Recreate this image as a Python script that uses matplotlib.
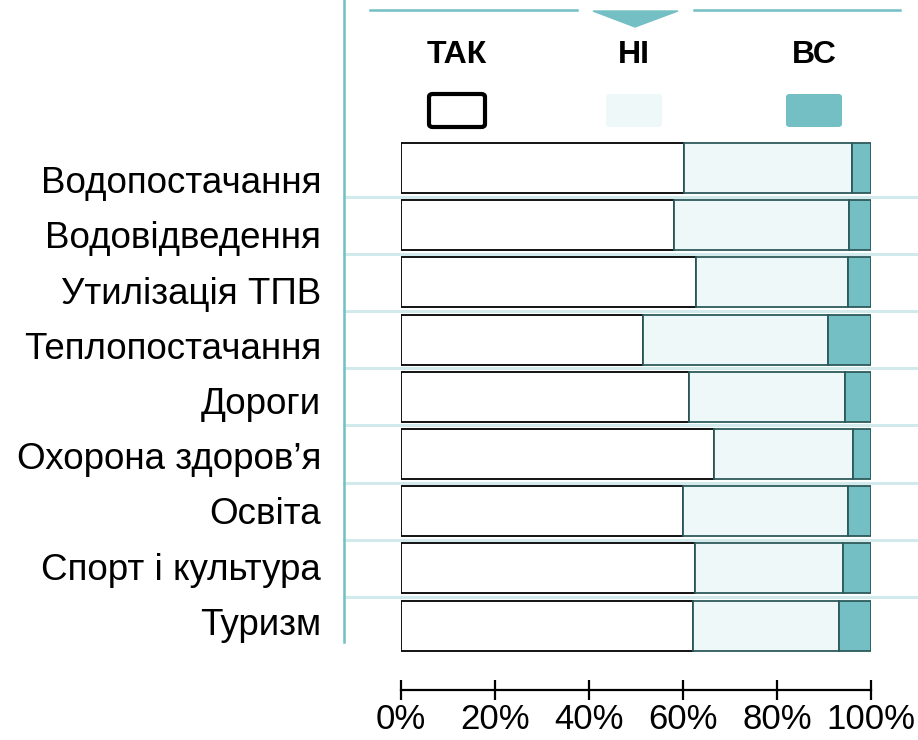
import matplotlib.pyplot as plt
import numpy as np
from matplotlib.patches import FancyBboxPatch, Polygon
from matplotlib.lines import Line2D
from matplotlib.transforms import blended_transform_factory

plt.rcParams['font.family'] = ['Liberation Sans', 'DejaVu Sans']

# data (shares, %)
categories = ['Водопостачання', 'Водовідведення', 'Утилізація ТПВ', 'Теплопостачання',
              'Дороги', 'Охорона здоров’я', 'Освіта', 'Спорт і культура', 'Туризм']
tak = [60.3, 58.1, 62.7, 51.4, 61.3, 66.6, 59.9, 62.6, 62.2]
ni = [35.7, 37.3, 32.5, 39.4, 33.1, 29.5, 35.2, 31.5, 31.0]
vs = [4.0, 4.6, 4.8, 9.2, 5.6, 3.9, 4.9, 5.9, 6.8]
legend_labels = ['ТАК', 'НІ', 'ВС']
xticks = [0, 20, 40, 60, 80, 100]

W, H = 918, 740
teal = '#73bfc4'
pale = '#eff8f8'
dark = '#2d5a5b'
sep = '#d3eaec'


def fx(x):
    return x / W


def fy(y):
    return 1 - y / H


fig = plt.figure(figsize=(W / 100, H / 100), dpi=100)
ax = fig.add_axes([fx(401), fy(654.2), fx(871) - fx(401), (654.2 - 139.4) / H])

y = np.arange(len(categories))
tak_a, ni_a, vs_a = np.array(tak), np.array(ni), np.array(vs)
h = 0.875
ax.barh(y, tak_a, height=h, color='white', edgecolor='black', linewidth=1.3, zorder=2)
ax.barh(y, ni_a, left=tak_a, height=h, color=pale, edgecolor=dark, linewidth=1.3, zorder=2)
ax.barh(y, vs_a, left=tak_a + ni_a, height=h, color=teal, edgecolor=dark, linewidth=1.3, zorder=2)

ax.set_xlim(0, 100)
ax.set_ylim(len(categories) - 0.5, -0.5)
ax.set_yticks([])
for s in ['top', 'right', 'left']:
    ax.spines[s].set_visible(False)
ax.spines['bottom'].set_position(('outward', 26))
ax.spines['bottom'].set_bounds(0, 100)
ax.spines['bottom'].set_linewidth(1.6)
ax.set_xticks(xticks)
ax.set_xticklabels([f'{t}%' for t in xticks], fontsize=25)
ax.tick_params(axis='x', direction='inout', length=14, width=1.6, pad=2)

# separators between rows
tr = blended_transform_factory(fig.transFigure, ax.transData)
for i in range(len(categories) - 1):
    ax.plot([fx(344), 1], [i + 0.5, i + 0.5], color=sep, lw=2.2, transform=tr,
            clip_on=False, zorder=0)

# category labels
for i, c in enumerate(categories):
    fig.text(fx(321), fy(193 + 55.25 * i), c, ha='right', va='baseline', fontsize=26.5)

# left vertical rule
fig.add_artist(Line2D([fx(344), fx(344)], [fy(0), fy(642)], color=teal, lw=1.8))

# top decoration
fig.add_artist(Line2D([fx(370), fx(577)], [fy(9.5), fy(9.5)], color=teal, lw=1.8))
fig.add_artist(Line2D([fx(694), fx(900)], [fy(9.5), fy(9.5)], color=teal, lw=1.8))
fig.add_artist(Polygon([[fx(593), fy(11)], [fx(678), fy(11)], [fx(635), fy(27)]],
                       closed=True, color=teal, transform=fig.transFigure))

# legend
leg_x = [457, 634, 814]
leg_face = ['white', pale, teal]
leg_edge = ['black', 'none', 'none']
leg_lw = [3, 0, 0]
for lx, lab, fc, ec, lw in zip(leg_x, legend_labels, leg_face, leg_edge, leg_lw):
    fig.text(fx(lx), fy(63), lab, ha='center', va='baseline', fontsize=23, fontweight='bold')
    fig.add_artist(FancyBboxPatch((fx(lx - 28), fy(127)), fx(56), 33 / H,
                                  boxstyle='round,pad=0,rounding_size=0.004',
                                  transform=fig.transFigure, facecolor=fc,
                                  edgecolor=ec, linewidth=lw))

fig.savefig('out.png', dpi=100)
